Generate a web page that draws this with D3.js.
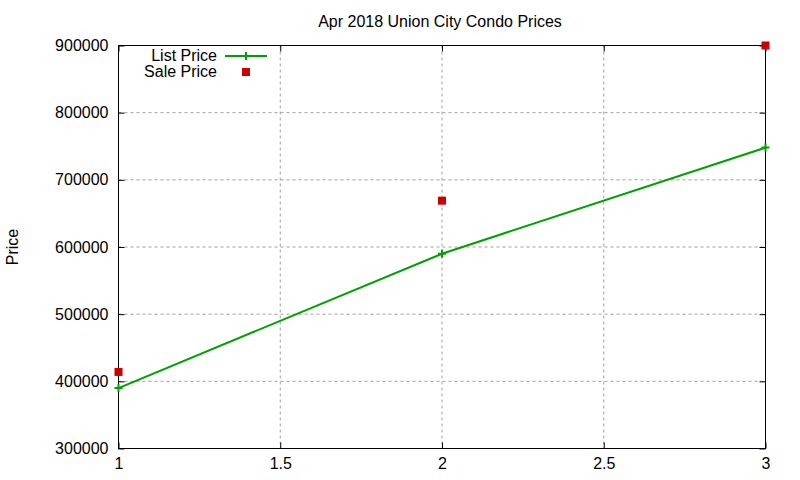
<!DOCTYPE html>
<html>
<head>
<meta charset="utf-8">
<script src="https://cdn.jsdelivr.net/npm/d3@7"></script>
<style>
  body { margin: 0; background: #fff; }
  svg { font-family: "Liberation Sans", Arial, sans-serif; }
</style>
</head>
<body>
<svg></svg>
<script>
const title = "Apr 2018 Union City Condo Prices";
const xValues = [1, 2, 3];
const listPrice = [390000, 590000, 748000];
const salePrice = [414000, 669000, 900000];
const xTicks = [1, 1.5, 2, 2.5, 3];
const yTicks = [300000, 400000, 500000, 600000, 700000, 800000, 900000];

const width = 800;
const height = 480;
const margin = { left: 118.5, right: 34.5, top: 45.5, bottom: 31.5 };

const svg = d3.select("svg").attr("width", width).attr("height", height);

const xScale = d3.scaleLinear().domain([1, 3]).range([margin.left, width - margin.right]);
const yScale = d3.scaleLinear().domain([300000, 900000]).range([height - margin.bottom, margin.top]);

// grid
svg.append("g").selectAll("line").data(xTicks.slice(1, -1)).enter().append("line")
  .attr("x1", (d) => xScale(d)).attr("x2", (d) => xScale(d))
  .attr("y1", margin.top).attr("y2", height - margin.bottom)
  .attr("stroke", "#a0a0a0").attr("stroke-dasharray", "3,3");
svg.append("g").selectAll("line").data(yTicks.slice(1, -1)).enter().append("line")
  .attr("x1", margin.left).attr("x2", width - margin.right)
  .attr("y1", (d) => yScale(d)).attr("y2", (d) => yScale(d))
  .attr("stroke", "#a0a0a0").attr("stroke-dasharray", "3,3");

// axes
const xAxis = d3.axisBottom(xScale).tickValues(xTicks).tickSizeInner(-6).tickSizeOuter(0).tickPadding(12)
  .tickFormat(d3.format(""));
const yAxis = d3.axisLeft(yScale).tickValues(yTicks).tickSizeInner(-6).tickSizeOuter(0).tickPadding(10)
  .tickFormat(d3.format("d"));
const xTop = d3.axisTop(xScale).tickValues(xTicks).tickSizeInner(-6).tickSizeOuter(0).tickFormat("");
const yRight = d3.axisRight(yScale).tickValues(yTicks).tickSizeInner(-6).tickSizeOuter(0).tickFormat("");

const gx = svg.append("g").attr("transform", `translate(0, ${height - margin.bottom})`).call(xAxis);
const gy = svg.append("g").attr("transform", `translate(${margin.left}, 0)`).call(yAxis);
svg.append("g").attr("transform", `translate(0, ${margin.top})`).call(xTop);
svg.append("g").attr("transform", `translate(${width - margin.right}, 0)`).call(yRight);

svg.selectAll(".domain").remove();
svg.selectAll(".tick line").attr("stroke", "#000");
svg.selectAll(".tick text").attr("font-size", 16).attr("fill", "#000")
  .attr("font-family", "Liberation Sans, Arial, sans-serif");
gx.selectAll(".tick text").attr("dy", "0.5em");

svg.append("rect")
  .attr("x", margin.left).attr("y", margin.top)
  .attr("width", width - margin.left - margin.right)
  .attr("height", height - margin.top - margin.bottom)
  .attr("fill", "none").attr("stroke", "#000");

// title and label
svg.append("text").attr("x", 440).attr("y", 27).attr("text-anchor", "middle")
  .attr("font-size", 16).text(title);
svg.append("text").attr("transform", "translate(18, 247) rotate(-90)").attr("text-anchor", "middle")
  .attr("font-size", 16).text("Price");

// list price line
const line = d3.line().x((d, i) => xScale(xValues[i])).y((d) => yScale(d));
svg.append("path").datum(listPrice).attr("d", line)
  .attr("fill", "none").attr("stroke", "#00a000").attr("stroke-width", 2);
svg.append("g").selectAll("path").data(listPrice).enter().append("path")
  .attr("d", (d, i) => {
    const x = xScale(xValues[i]), y = yScale(d);
    return `M${x - 4},${y}H${x + 4}M${x},${y - 4}V${y + 4}`;
  })
  .attr("stroke", "#00a000").attr("stroke-width", 2);

// sale price points
svg.append("g").selectAll("rect").data(salePrice).enter().append("rect")
  .attr("x", (d, i) => xScale(xValues[i]) - 4).attr("y", (d) => yScale(d) - 4)
  .attr("width", 8).attr("height", 8).attr("fill", "#cc0000");

// legend
const legend = svg.append("g");
legend.append("text").attr("x", 217).attr("y", 61).attr("text-anchor", "end")
  .attr("font-size", 16).text("List Price");
legend.append("path").attr("d", "M225,56H267M246,52V60")
  .attr("stroke", "#00a000").attr("stroke-width", 2);
legend.append("text").attr("x", 217).attr("y", 77).attr("text-anchor", "end")
  .attr("font-size", 16).text("Sale Price");
legend.append("rect").attr("x", 242).attr("y", 68).attr("width", 8).attr("height", 8).attr("fill", "#cc0000");
</script>
</body>
</html>
